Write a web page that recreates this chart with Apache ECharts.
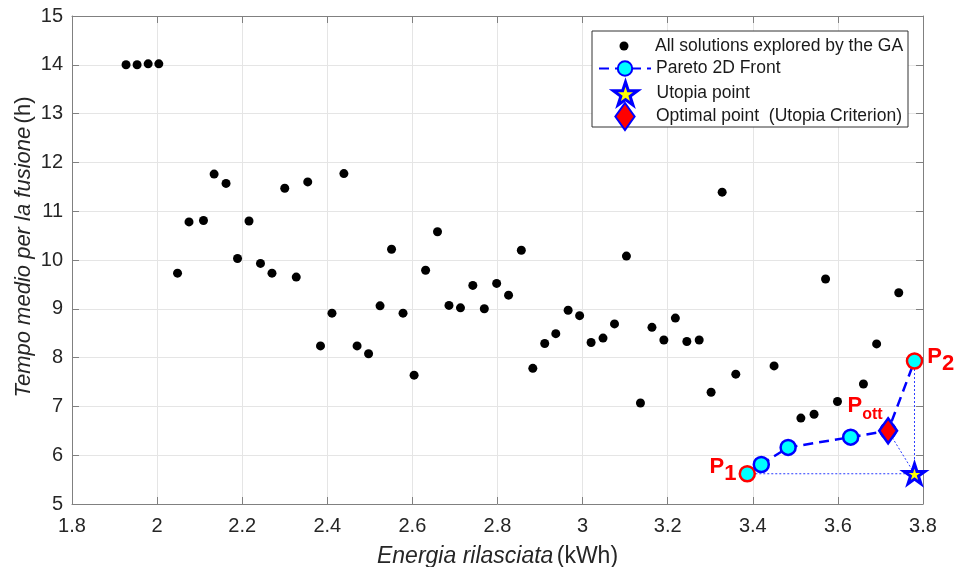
<!DOCTYPE html>
<html>
<head>
<meta charset="utf-8">
<script src="https://cdn.jsdelivr.net/npm/echarts@6/dist/echarts.min.js"></script>
<style>
html,body{margin:0;padding:0;background:#fff;}
#chart{width:954px;height:567px;}
</style>
</head>
<body>
<div id="chart"></div>
<script>
// ---- Data ----
const gaX = [1.927,1.953,1.979,2.004,2.048,2.075,2.109,2.134,2.162,2.189,2.216,2.243,2.270,2.300,2.327,2.354,2.384,2.411,2.439,2.470,2.497,2.524,2.551,2.578,2.604,2.631,2.659,2.686,2.713,2.742,2.769,2.798,2.826,2.856,2.883,2.911,2.937,2.966,2.993,3.020,3.048,3.075,3.103,3.136,3.163,3.191,3.218,3.245,3.274,3.302,3.328,3.360,3.450,3.513,3.544,3.571,3.599,3.660,3.691,3.743];
const gaY = [14.00,14.00,14.02,14.02,9.73,10.78,10.81,11.76,11.57,10.03,10.80,9.93,9.73,11.47,9.65,11.60,8.24,8.91,11.77,8.24,8.08,9.06,10.22,8.91,7.64,9.79,10.58,9.07,9.02,9.48,9.00,9.52,9.28,10.20,7.78,8.29,8.49,8.97,8.86,8.31,8.40,8.69,10.08,7.07,8.62,8.36,8.81,8.33,8.36,7.29,11.39,7.66,7.83,6.76,6.84,9.61,7.10,7.46,8.28,9.33];
const paretoX = [3.387,3.420,3.483,3.630,3.718,3.780];
const paretoY = [5.62,5.81,6.16,6.37,6.50,7.93];
const utopiaX = [3.780];
const utopiaY = [5.62];
const optimalX = [3.718];
const optimalY = [6.50];
const xTickMin = 1.8, xTickMax = 3.8, xTickStep = 0.2;
const yTickMin = 5, yTickMax = 15, yTickStep = 1;
const seriesNames = ['All solutions explored by the GA','Pareto 2D Front','Utopia point','Optimal point  (Utopia Criterion)'];
const xTitle = ['Energia rilasciata', '(kWh)'];
const yTitle = ['Tempo medio per la fusione', '(h)'];

// ---- Build ----
const zip = (xs, ys) => xs.map((x, i) => [x, ys[i]]);
const STAR = 'path://M0,-1L0.2245,-0.309L0.9511,-0.309L0.3633,0.118L0.5878,0.809L0,0.382L-0.5878,0.809L-0.3633,0.118L-0.9511,-0.309L-0.2245,-0.309Z';
const DIAM = 'path://M0,-14L10,0L0,14L-10,0Z';
const BLUE = '#0000ff', RED = '#ff0000', CYAN = '#00ffff', YELLOW = '#ffff00';
const font = "'Liberation Sans', Arial, sans-serif";

const richLbl = {
  p: {fontSize: 22, fontWeight: 'bold', color: RED, fontFamily: font, verticalAlign: 'top', lineHeight: 22},
  s: {fontSize: 22, fontWeight: 'bold', color: RED, fontFamily: font, verticalAlign: 'bottom', lineHeight: 29},
  o: {fontSize: 16, fontWeight: 'bold', color: RED, fontFamily: font, verticalAlign: 'bottom', lineHeight: 28}
};

const pareto = zip(paretoX, paretoY).map((p, i, arr) => {
  const item = {value: p};
  if (i === 0) {
    item.itemStyle = {borderColor: RED};
    item.label = {show: true, formatter: '{p|P}{s|1}', position: 'left', distance: 2, offset: [0, -3], rich: richLbl};
  } else if (i === arr.length - 1) {
    item.itemStyle = {borderColor: RED};
    item.label = {show: true, formatter: '{p|P}{s|2}', position: 'right', distance: 4, offset: [0, -1], rich: richLbl};
  }
  return item;
});

const u = [utopiaX[0], utopiaY[0]];
const guides = [
  [[paretoX[0], paretoY[0]], u],
  [[paretoX[paretoX.length-1], paretoY[paretoY.length-1]], u],
  [[optimalX[0], optimalY[0]], u]
].map(seg => ({
  type: 'line', data: seg, symbol: 'none', silent: true, z: 1,
  lineStyle: {color: '#2a3cff', width: 1, type: [2, 2]}
}));

const axisCol = '#808080';
const lblCol = '#262626';

// legend icon is centred in a 52px slot; left is the icon's bbox left
const ICON_CX = 624;
const legendBase = {
  orient: 'vertical', padding: 0, itemWidth: 52, itemGap: 0,
  textStyle: {fontSize: 17.5, color: '#1a1a1a', fontFamily: font},
  selectedMode: false, z: 10
};
const mkLegend = (name, icon, h, iconW, top, extra) => Object.assign({}, legendBase,
  {top: top, left: ICON_CX - iconW / 2, itemHeight: h, data: [icon ? {name: name, icon: icon} : name]}, extra || {});

const option = {
  animation: false,
  backgroundColor: '#fff',
  grid: {left: 72, right: 31, top: 16, bottom: 63, containLabel: false, outerBoundsMode: 'none'},
  graphic: [{
    type: 'rect', z: 5, shape: {x: 592, y: 31, width: 316, height: 96},
    style: {fill: '#fff', stroke: '#333', lineWidth: 1}
  }],
  legend: [
    mkLegend(seriesNames[0], 'circle', 9, 9, 37),
    mkLegend(seriesNames[1], null, 18, 52, 59.5),
    mkLegend(seriesNames[2], STAR, 23, 24.2, 80.5, {itemStyle: {borderWidth: 3, borderColor: BLUE, color: YELLOW}}),
    mkLegend(seriesNames[3], DIAM, 27, 19.3, 102)
  ],
  xAxis: [{
    type: 'value', min: xTickMin, max: xTickMax, interval: xTickStep,
    name: '{i|' + xTitle[0] + '} {n|' + xTitle[1] + '}', nameLocation: 'middle', nameGap: 41,
    nameTextStyle: {rich: {
      i: {fontSize: 23, fontStyle: 'italic', color: lblCol, fontFamily: font},
      n: {fontSize: 23, color: lblCol, fontFamily: font}}},
    axisLine: {show: true, onZero: false, lineStyle: {color: axisCol, width: 1}},
    axisTick: {show: true, inside: true, length: 7, lineStyle: {color: axisCol}},
    axisLabel: {fontSize: 20, color: lblCol, margin: 12, fontFamily: font},
    splitLine: {show: true, lineStyle: {color: '#e5e5e5', width: 1}}
  }, {
    type: 'value', position: 'top', min: xTickMin, max: xTickMax, interval: xTickStep,
    axisLine: {show: true, onZero: false, lineStyle: {color: axisCol, width: 1}},
    axisTick: {show: true, inside: true, length: 7, lineStyle: {color: axisCol}},
    axisLabel: {show: false}, splitLine: {show: false}
  }],
  yAxis: [{
    type: 'value', min: yTickMin, max: yTickMax, interval: yTickStep,
    name: '{i|' + yTitle[0] + '} {n|' + yTitle[1] + '}', nameLocation: 'middle', nameGap: 37,
    nameMoveOverlap: false,
    nameTextStyle: {padding: [0, 0, 0, 26], rich: {
      i: {fontSize: 22, fontStyle: 'italic', color: lblCol, fontFamily: font},
      n: {fontSize: 22, color: lblCol, fontFamily: font}}},
    axisLine: {show: true, onZero: false, lineStyle: {color: axisCol, width: 1}},
    axisTick: {show: true, inside: true, length: 7, lineStyle: {color: axisCol}},
    axisLabel: {fontSize: 20, color: lblCol, margin: 9, fontFamily: font},
    splitLine: {show: true, lineStyle: {color: '#e5e5e5', width: 1}}
  }, {
    type: 'value', position: 'right', min: yTickMin, max: yTickMax, interval: yTickStep,
    axisLine: {show: true, onZero: false, lineStyle: {color: axisCol, width: 1}},
    axisTick: {show: true, inside: true, length: 7, lineStyle: {color: axisCol}},
    axisLabel: {show: false}, splitLine: {show: false}
  }],
  series: guides.concat([
    {
      name: seriesNames[0], type: 'scatter', data: zip(gaX, gaY), symbol: 'circle', symbolSize: 9, z: 2,
      itemStyle: {color: '#000', opacity: 1}
    },
    {
      name: seriesNames[1], type: 'line', data: pareto, symbol: 'circle', symbolSize: 15, z: 3,
      showAllSymbol: true,
      lineStyle: {color: BLUE, width: 2.5, type: [10, 6]},
      itemStyle: {color: CYAN, borderColor: BLUE, borderWidth: 2.5, opacity: 1}
    },
    {
      name: seriesNames[3], type: 'scatter', data: zip(optimalX, optimalY), symbol: DIAM, symbolSize: 25,
      symbolKeepAspect: true, z: 4,
      itemStyle: {color: RED, borderColor: BLUE, borderWidth: 2.5, opacity: 1},
      label: {show: true, formatter: '{p|P}{o|ott}', position: 'top', distance: 0, offset: [-23, 6], rich: richLbl}
    },
    {
      name: seriesNames[2], type: 'scatter', data: [u], symbol: STAR, symbolSize: 21, symbolKeepAspect: true, z: 5,
      itemStyle: {color: YELLOW, borderColor: BLUE, borderWidth: 3, opacity: 1}
    }
  ])
};

const chart = echarts.init(document.getElementById('chart'), null, {renderer: 'canvas'});
chart.setOption(option);
</script>
</body>
</html>
